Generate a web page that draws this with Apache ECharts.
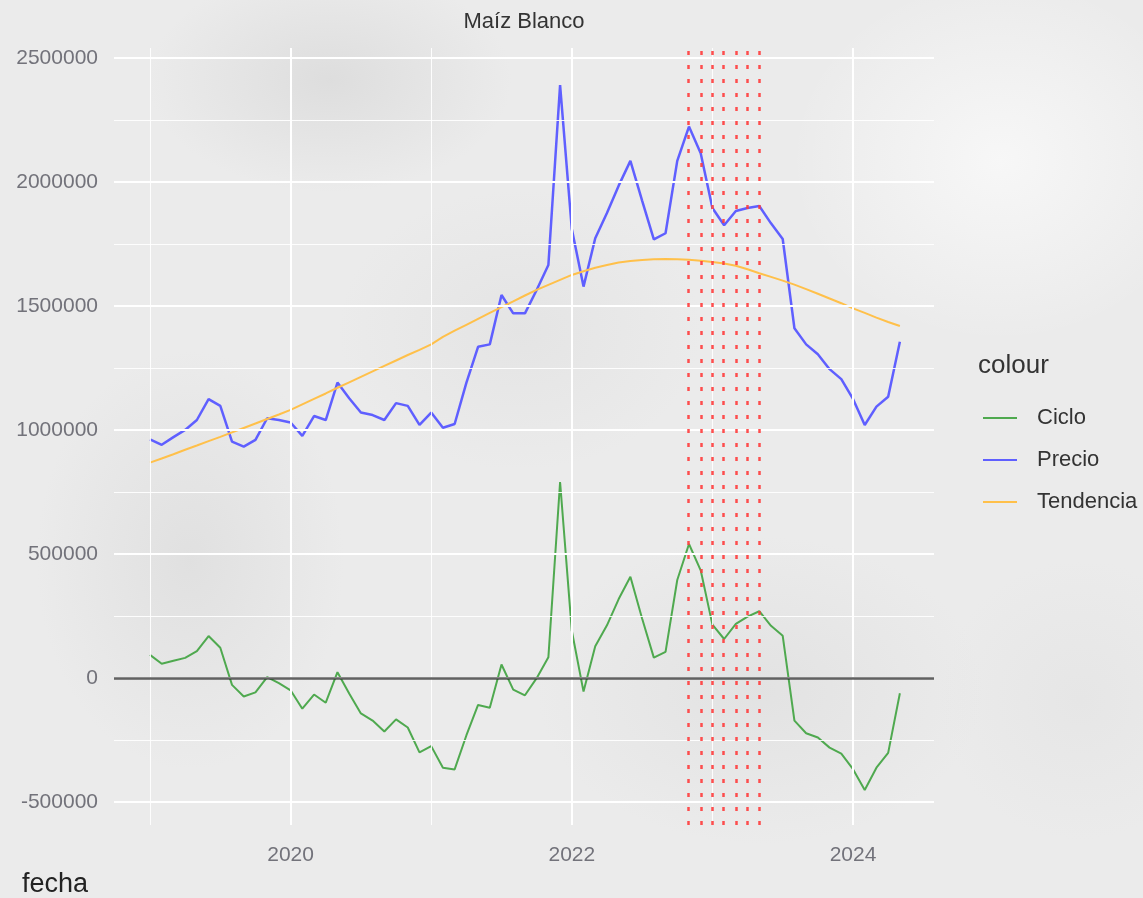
<!DOCTYPE html>
<html>
<head>
<meta charset="utf-8">
<script src="https://cdn.jsdelivr.net/npm/echarts@6/dist/echarts.min.js"></script>
<style>
html,body{margin:0;padding:0;}
body{
  width:1143px;height:898px;overflow:hidden;
  background:
    radial-gradient(ellipse 260px 160px at 330px 80px, rgba(205,205,205,0.45), rgba(205,205,205,0) 70%),
    radial-gradient(ellipse 220px 300px at 190px 560px, rgba(208,208,208,0.40), rgba(208,208,208,0) 70%),
    radial-gradient(ellipse 320px 220px at 760px 690px, rgba(210,210,210,0.35), rgba(210,210,210,0) 70%),
    radial-gradient(ellipse 260px 200px at 520px 330px, rgba(212,212,212,0.30), rgba(212,212,212,0) 70%),
    radial-gradient(ellipse 300px 260px at 1000px 160px, rgba(252,252,252,0.7), rgba(252,252,252,0) 70%),
    radial-gradient(ellipse 200px 200px at 1080px 700px, rgba(225,225,225,0.5), rgba(225,225,225,0) 70%),
    #ebebeb;
}
#chart{width:1143px;height:898px;}
</style>
</head>
<body>
<div id="chart"></div>
<script>
// ---- data ----
const months = [
  '2019-01','2019-02','2019-03','2019-04','2019-05','2019-06','2019-07','2019-08','2019-09','2019-10','2019-11','2019-12',
  '2020-01','2020-02','2020-03','2020-04','2020-05','2020-06','2020-07','2020-08','2020-09','2020-10','2020-11','2020-12',
  '2021-01','2021-02','2021-03','2021-04','2021-05','2021-06','2021-07','2021-08','2021-09','2021-10','2021-11','2021-12',
  '2022-01','2022-02','2022-03','2022-04','2022-05','2022-06','2022-07','2022-08','2022-09','2022-10','2022-11','2022-12',
  '2023-01','2023-02','2023-03','2023-04','2023-05','2023-06','2023-07','2023-08','2023-09','2023-10','2023-11','2023-12',
  '2024-01','2024-02','2024-03','2024-04','2024-05'
];
const precio = [
  962000, 940000, 971000, 1000000, 1040000, 1124000, 1097000, 953000, 933000, 960000, 1047000, 1040000,
  1030000, 976000, 1056000, 1040000, 1191000, 1128000, 1070000, 1060000, 1040000, 1108000, 1097000, 1020000,
  1070000, 1009000, 1024000, 1190000, 1335000, 1345000, 1544000, 1470000, 1470000, 1564000, 1665000, 2390000,
  1810000, 1578000, 1773000, 1875000, 1985000, 2085000, 1925000, 1768000, 1793000, 2085000, 2223000, 2116000,
  1895000, 1825000, 1883000, 1895000, 1903000, 1833000, 1770000, 1410000, 1345000, 1305000, 1245000, 1205000,
  1125000, 1020000, 1094000, 1134000, 1356000
];
const tendencia = [
  868000, 885000, 902000, 920000, 937000, 955000, 972000, 990000, 1008000, 1026000, 1044000, 1062000,
  1081000, 1103000, 1125000, 1147000, 1170000, 1192000, 1214000, 1236000, 1258000, 1280000, 1302000, 1323000,
  1345000, 1375000, 1400000, 1424000, 1448000, 1472000, 1495000, 1518000, 1542000, 1565000, 1585000, 1605000,
  1625000, 1640000, 1654000, 1665000, 1675000, 1681000, 1685000, 1688000, 1689000, 1688000, 1686000, 1682000,
  1677000, 1671000, 1662000, 1648000, 1632000, 1617000, 1602000, 1586000, 1568000, 1549000, 1530000, 1511000,
  1490000, 1472000, 1453000, 1435000, 1419000
];
const ciclo = [
  93000, 57000, 69000, 81000, 108000, 169000, 122000, -28000, -75000, -58000, 3000, -21000,
  -50000, -124000, -67000, -100000, 23000, -63000, -143000, -172000, -216000, -167000, -200000, -300000,
  -275000, -362000, -369000, -232000, -109000, -120000, 54000, -47000, -70000, -1000, 83000, 790000,
  190000, -55000, 128000, 212000, 318000, 408000, 240000, 82000, 105000, 395000, 540000, 434000,
  215000, 157000, 218000, 247000, 269000, 210000, 170000, -172000, -223000, -240000, -281000, -305000,
  -368000, -452000, -362000, -302000, -62000
];
const markedMonths = ['2022-11','2022-12','2023-01','2023-02','2023-03','2023-04','2023-05'];
const xTickYears = [2020, 2022, 2024];
const xMinorYears = [2019, 2021, 2023];
const yTicks = [-500000, 0, 500000, 1000000, 1500000, 2000000, 2500000];
const yMinor = [-250000, 250000, 750000, 1250000, 1750000, 2250000];

// ---- helpers ----
function toYear(m){ const p = m.split('-'); return (+p[0]) + (+p[1]-1)/12; }
function pairs(vals){ return months.map((m,i)=>[toYear(m), vals[i]]); }

const FONT = "'Liberation Sans', Arial, sans-serif";
const gridLines = [];
yTicks.forEach(v=>gridLines.push({yAxis:v, lineStyle:{color:'#ffffff', width:2, type:'solid', opacity:1}}));
yMinor.forEach(v=>gridLines.push({yAxis:v, lineStyle:{color:'#ffffff', width:1, type:'solid', opacity:0.9}}));
xTickYears.forEach(v=>gridLines.push({xAxis:v, lineStyle:{color:'#ffffff', width:2, type:'solid', opacity:1}}));
xMinorYears.forEach(v=>gridLines.push({xAxis:v, lineStyle:{color:'#ffffff', width:1, type:'solid', opacity:0.9}}));

const chart = echarts.init(document.getElementById('chart'), null, {renderer:'canvas'});
chart.setOption({
  animation:false,
  backgroundColor:'transparent',
  textStyle:{fontFamily:FONT},
  grid:{left:114, right:209, top:48, bottom:73, containLabel:false},
  xAxis:{
    type:'value', min:2018.744, max:2024.576, minInterval:1, maxInterval:1,
    axisLine:{show:false}, axisTick:{show:false}, splitLine:{show:false},
    axisLabel:{
      margin:20, fontSize:21, color:'#72727a', fontFamily:FONT,
      formatter:function(v){ const r=Math.round(v); return (Math.abs(v-r)<1e-6 && xTickYears.indexOf(r)>=0) ? String(r) : ''; }
    }
  },
  yAxis:{
    type:'value', min:-593000, max:2540000, minInterval:500000, maxInterval:500000,
    axisLine:{show:false}, axisTick:{show:false}, splitLine:{show:false},
    axisLabel:{
      margin:16, fontSize:21, color:'#72727a', fontFamily:FONT,
      formatter:function(v){ return yTicks.indexOf(Math.round(v))>=0 ? String(Math.round(v)) : ''; }
    }
  },
  legend:{
    orient:'vertical', left:978, top:402, icon:'rect', itemWidth:34, itemHeight:2,
    itemGap:20,
    textStyle:{fontSize:22, color:'#333333', fontFamily:FONT, padding:[0,0,0,15]},
    data:['Ciclo','Precio','Tendencia'],
    selectedMode:false
  },
  graphic:[
    {type:'text', x:524, y:22, style:{text:'Maíz Blanco', fill:'#333333', font:"22px 'Liberation Sans', Arial, sans-serif", textAlign:'center', textVerticalAlign:'middle'}},
    {type:'text', x:978, y:366, style:{text:'colour', fill:'#333333', font:"26px 'Liberation Sans', Arial, sans-serif", textAlign:'left', textVerticalAlign:'middle'}},
    {type:'text', x:22, y:885, style:{text:'fecha', fill:'#222222', font:"27px 'Liberation Sans', Arial, sans-serif", textAlign:'left', textVerticalAlign:'middle'}}
  ],
  series:[
    {
      name:'grid', type:'line', data:[], z:1, silent:true, showSymbol:false,
      markLine:{silent:true, symbol:['none','none'], label:{show:false}, emphasis:{disabled:true}, animation:false, data:gridLines}
    },
    {
      name:'zero', type:'line', data:[], z:2, silent:true, showSymbol:false,
      markLine:{silent:true, symbol:['none','none'], label:{show:false}, emphasis:{disabled:true}, animation:false,
        data:[{yAxis:0, lineStyle:{color:'rgba(30,30,30,0.7)', width:2.5, type:'solid'}}]}
    },
    {
      name:'Ciclo', type:'line', data:pairs(ciclo), z:3, showSymbol:false, symbol:'none',
      color:'#4fa94f', lineStyle:{color:'#4fa94f', width:2}, emphasis:{disabled:true}
    },
    {
      name:'Precio', type:'line', data:pairs(precio), z:3, showSymbol:false, symbol:'none',
      color:'#5f5fff', lineStyle:{color:'#5f5fff', width:2.5}, emphasis:{disabled:true}
    },
    {
      name:'Tendencia', type:'line', data:pairs(tendencia), z:3, showSymbol:false, symbol:'none',
      color:'#ffc04a', lineStyle:{color:'#ffc04a', width:2}, emphasis:{disabled:true}
    },
    {
      name:'marks', type:'line', data:[], z:4, silent:true, showSymbol:false,
      markLine:{silent:true, symbol:['none','none'], label:{show:false}, emphasis:{disabled:true}, animation:false,
        data:markedMonths.map(m=>({xAxis:toYear(m), lineStyle:{color:'#ff3c3c', width:2.5, type:[4,10], opacity:0.9}}))}
    }
  ]
});
</script>
</body>
</html>
